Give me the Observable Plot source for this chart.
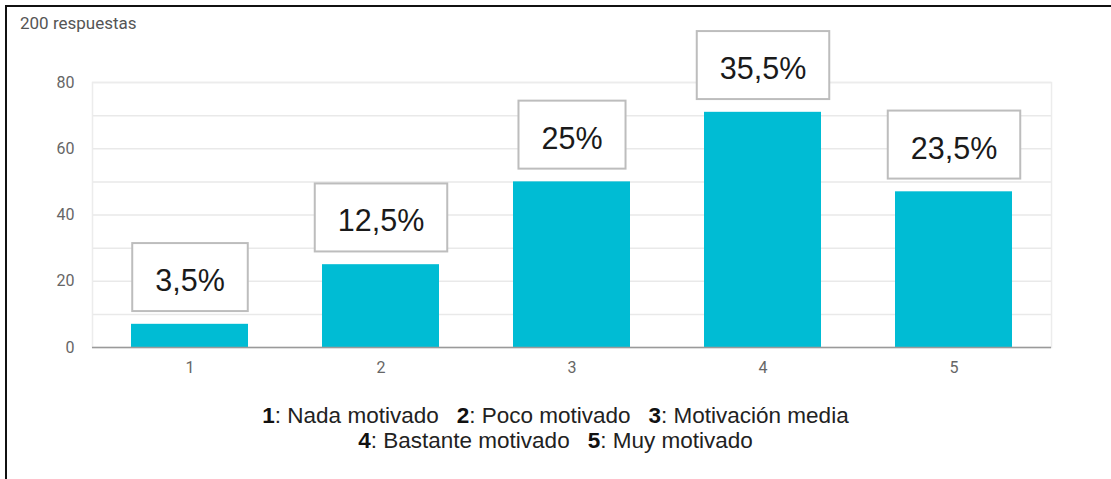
<!DOCTYPE html>
<html>
<head>
<meta charset="utf-8">
<script src="https://cdn.jsdelivr.net/npm/d3@7"></script>
<script src="https://cdn.jsdelivr.net/npm/@observablehq/plot@0.6"></script>
<style>
  html, body { margin: 0; padding: 0; background: #fff; }
  body { width: 1111px; height: 479px; position: relative; overflow: hidden; }
  #frame { position: absolute; left: 5px; top: 5px; width: 1110px; height: 480px;
           border-top: 2.5px solid #111; border-left: 2.5px solid #111; box-sizing: border-box; }
  #sub { position: absolute; left: 20px; top: 15px; font: 17px/17px Roboto, sans-serif; color: #555; }
  #chart { position: absolute; left: 0; top: 0; }
  #legend { position: absolute; left: 0; top: 403px; width: 1111px; text-align: center;
            font: 22.5px/25px "Liberation Sans", Arial, sans-serif; color: #222; }
  #legend b { color: #111; }
  #legend .gap { display: inline-block; width: 18px; }
</style>
</head>
<body>
<div id="frame"></div>
<div id="sub">200 respuestas</div>
<div id="chart"></div>
<div id="legend">
  <b>1</b>: Nada motivado<span class="gap"></span><b>2</b>: Poco motivado<span class="gap"></span><b>3</b>: Motivación media<br>
  <b>4</b>: Bastante motivado<span class="gap"></span><b>5</b>: Muy motivado
</div>
<script>
const categories = ["1", "2", "3", "4", "5"];
const counts = [7, 25, 50, 71, 47];
const percentLabels = ["3,5%", "12,5%", "25%", "35,5%", "23,5%"];
const yTicks = [0, 20, 40, 60, 80];
const gridValues = [0, 10, 20, 30, 40, 50, 60, 70, 80];

const data = categories.map((c, i) => ({cat: c, count: counts[i], label: percentLabels[i]}));

const chart = Plot.plot({
  width: 1111,
  height: 400,
  marginTop: 82,
  marginBottom: 53,
  marginLeft: 92,
  marginRight: 60,
  style: {background: "transparent", fontFamily: "Roboto, sans-serif"},
  x: {domain: categories, paddingInner: 0.385, paddingOuter: 0.1925, label: null, tickSize: 0, tickPadding: 14},
  y: {domain: [0, 80], ticks: yTicks, label: null, tickSize: 0, tickPadding: 18},
  marks: [
    Plot.gridY(gridValues, {stroke: "#e9e9e9", strokeOpacity: 1, strokeWidth: 1.5}),
    Plot.frame({stroke: "#ececec", strokeWidth: 1.5}),
    Plot.barY(data, {x: "cat", y: "count", fill: "#00bcd4"}),
    Plot.ruleY([0], {stroke: "#9a9a9a", strokeWidth: 1.5}),
    Plot.axisX({tickSize: 0, tickPadding: 14, fontSize: 16, fill: "#666", label: null}),
    Plot.axisY({ticks: yTicks, tickSize: 0, tickPadding: 18, fontSize: 16, fill: "#666", label: null}),
    Plot.text(data, {x: "cat", y: "count", text: "label", dy: -43, fontSize: 30.5,
      fontFamily: "'Liberation Sans', Arial, sans-serif", fill: "#1a1a1a", className: "pctlabel"})
  ]
});

document.getElementById("chart").appendChild(chart);

// draw boxes behind the percentage labels, sized from the rendered text
const ns = "http://www.w3.org/2000/svg";
chart.querySelectorAll("g.pctlabel text").forEach(t => {
  const bb = t.getBBox();
  const w = bb.width + 46, h = 68;
  const cx = bb.x + bb.width / 2, cy = bb.y + bb.height / 2 - 3;
  const r = document.createElementNS(ns, "rect");
  r.setAttribute("x", cx - w / 2);
  r.setAttribute("y", cy - h / 2);
  r.setAttribute("width", w);
  r.setAttribute("height", h);
  r.setAttribute("fill", "#fff");
  r.setAttribute("stroke", "#bdbdbd");
  r.setAttribute("stroke-width", 2);
  if (t.getAttribute("transform")) r.setAttribute("transform", t.getAttribute("transform"));
  t.parentNode.insertBefore(r, t);
});
</script>
</body>
</html>
